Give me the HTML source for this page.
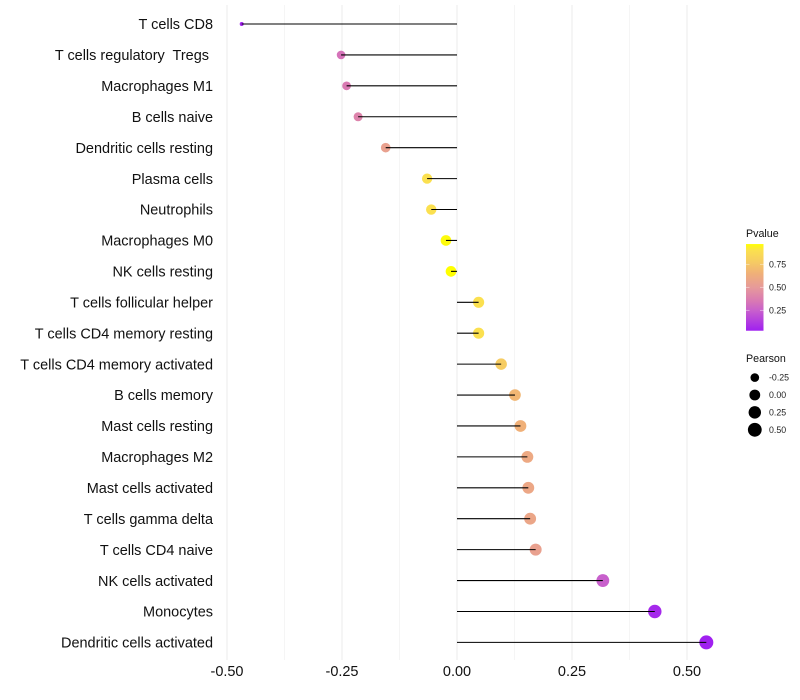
<!DOCTYPE html>
<html>
<head>
<meta charset="utf-8">
<title>Immune cell correlation lollipop chart</title>
<style>
html,body{margin:0;padding:0;background:#fff;}
svg{display:block;font-family:"Liberation Sans",sans-serif;}
text{white-space:pre;}
</style>
</head>
<body>
<svg id="chart" xmlns="http://www.w3.org/2000/svg" width="800" height="700" viewBox="0 0 800 700"></svg>
<script>
const categories = ["T cells CD8","T cells regulatory  Tregs ","Macrophages M1","B cells naive","Dendritic cells resting","Plasma cells","Neutrophils","Macrophages M0","NK cells resting","T cells follicular helper","T cells CD4 memory resting","T cells CD4 memory activated","B cells memory","Mast cells resting","Macrophages M2","Mast cells activated","T cells gamma delta","T cells CD4 naive","NK cells activated","Monocytes","Dendritic cells activated"];
const pearsonValues = [-0.468,-0.252,-0.240,-0.215,-0.155,-0.065,-0.056,-0.024,-0.013,0.047,0.047,0.096,0.126,0.138,0.153,0.155,0.159,0.171,0.317,0.430,0.542];
const pvalueValues = [0.04,0.33,0.36,0.40,0.55,0.90,0.90,0.96,0.97,0.90,0.90,0.78,0.68,0.65,0.60,0.59,0.58,0.55,0.25,0.06,0.03];
const xTickValues = [-0.5,-0.25,0,0.25,0.5];
const xTickLabels = ["-0.50","-0.25","0.00","0.25","0.50"];
const xMinorTicks = [-0.375,-0.125,0.125,0.375];
const pvalueLegendTicks = [0.25,0.5,0.75];
const pvalueLegendLabels = ["0.25","0.50","0.75"];
const pearsonLegendValues = [-0.25,0,0.25,0.5];
const pearsonLegendLabels = ["-0.25","0.00","0.25","0.50"];
const colorStopValues = [0.03,0.25,0.35,0.5,0.65,0.78,0.9,0.97];
const colorStopColors = ["#a020f0","#c860cc","#d878b4","#e69a9a","#f0b078","#f6cc62","#fbe04f","#ffff00"];

const NS = "http://www.w3.org/2000/svg";
const svg = document.getElementById("chart");
const xScale = v => 457 + v * 460;
const yScale = i => 24 + i * 30.92;
const pMin = 0.028, pMax = 0.97;
const legendP = p => 333.3 - 92 * p;
const sizeMin = Math.min(...pearsonValues), sizeMax = Math.max(...pearsonValues);
const rScale = v => 2 + 5 * Math.sqrt(Math.max(0, (v - sizeMin) / (sizeMax - sizeMin)));

function hexToRgb(h){ return [1,3,5].map(k => parseInt(h.slice(k,k+2),16)); }
function colorScale(p){
  if (p <= colorStopValues[0]) return colorStopColors[0];
  for (let i = 1; i < colorStopValues.length; i++){
    if (p <= colorStopValues[i]){
      const t = (p - colorStopValues[i-1]) / (colorStopValues[i] - colorStopValues[i-1]);
      const a = hexToRgb(colorStopColors[i-1]), b = hexToRgb(colorStopColors[i]);
      return "rgb(" + a.map((c,k) => Math.round(c + (b[k]-c)*t)).join(",") + ")";
    }
  }
  return colorStopColors[colorStopColors.length-1];
}
function make(tag, attrs, parent){
  const el = document.createElementNS(NS, tag);
  for (const k in attrs) el.setAttribute(k, attrs[k]);
  (parent || svg).appendChild(el);
  return el;
}

/* gridlines */
xMinorTicks.forEach(v => {
  const el = make("line", {x1:xScale(v), x2:xScale(v), y1:5, y2:660, stroke:"#f1f1f1", "stroke-width":0.7});
  
  
});
xTickValues.forEach(v => {
  const el = make("line", {x1:xScale(v), x2:xScale(v), y1:5, y2:660, stroke:"#ebebeb", "stroke-width":1});
  
  
});

/* points, then stems on top */
pearsonValues.forEach((v,i) => {
  const c = make("circle", {cx:xScale(v), cy:yScale(i), r:rScale(v), fill:colorScale(pvalueValues[i])});
  
  
});
pearsonValues.forEach((v,i) => {
  const l = make("line", {x1:xScale(0), x2:xScale(v), y1:yScale(i), y2:yScale(i), stroke:"#000", "stroke-width":1.07});
  
  
});

/* y labels */
categories.forEach((name,i) => {
  const t = make("text", {x:213, y:yScale(i)+5.2, "text-anchor":"end", "font-size":14.48, fill:"#111"});
  t.textContent = name;
  
  
});

/* x labels */
xTickValues.forEach((v,i) => {
  const t = make("text", {x:xScale(v), y:676, "text-anchor":"middle", "font-size":14.48, fill:"#111"});
  t.textContent = xTickLabels[i];
  
  
});

/* colour legend */
const defs = make("defs", {});
const grad = make("linearGradient", {id:"pgrad", x1:0, y1:1, x2:0, y2:0}, defs);
colorStopValues.forEach((p,i) => {
  make("stop", {offset:(p - colorStopValues[0]) / (colorStopValues[colorStopValues.length-1] - colorStopValues[0]), "stop-color":colorStopColors[i]}, grad);
});
const pTitle = make("text", {x:746, y:237, "font-size":10.7, fill:"#111"});
pTitle.textContent = "Pvalue";


const bar = make("rect", {x:746, y:legendP(pMax), width:17.5, height:legendP(pMin)-legendP(pMax), fill:"url(#pgrad)"});


pvalueLegendTicks.forEach((p,i) => {
  [[746,749.5],[760,763.5]].forEach(seg => {
    const k = make("line", {x1:seg[0], x2:seg[1], y1:legendP(p), y2:legendP(p), stroke:"#fff", "stroke-opacity":0.6, "stroke-width":0.7});
    
    
  });
  const t = make("text", {x:769, y:legendP(p)+3.1, "font-size":8.8, fill:"#222"});
  t.textContent = pvalueLegendLabels[i];
  
  
});

/* size legend */
const sTitle = make("text", {x:746, y:362, "font-size":10.7, fill:"#111"});
sTitle.textContent = "Pearson";


pearsonLegendValues.forEach((v,i) => {
  const y = 377.6 + i * 17.4;
  const c = make("circle", {cx:754.8, cy:y, r:rScale(v), fill:"#000"});
  
  
  const t = make("text", {x:769, y:y+3.1, "font-size":8.8, fill:"#222"});
  t.textContent = pearsonLegendLabels[i];
  
  
});
</script>
</body>
</html>
